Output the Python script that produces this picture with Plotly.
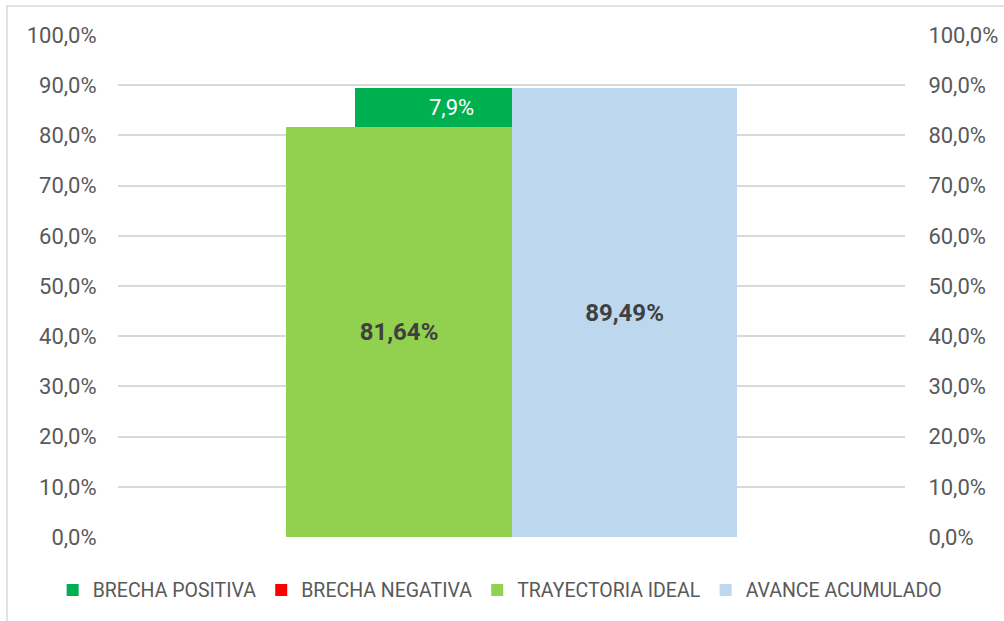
import plotly.graph_objects as go

# ---- data ----
series_names = ["BRECHA POSITIVA", "BRECHA NEGATIVA", "TRAYECTORIA IDEAL", "AVANCE ACUMULADO"]
trayectoria_ideal = [81.64]
avance_acumulado = [89.49]
brecha_positiva = [7.85]
brecha_negativa = [0.0]
brecha_labels = ["7,9%"]
categories = [0]
y_ticks = [0, 10, 20, 30, 40, 50, 60, 70, 80, 90, 100]
y_ticktext = [f"{v:.1f}%".replace(".", ",") for v in y_ticks]

colors = {
    "BRECHA POSITIVA": "#00B050",
    "BRECHA NEGATIVA": "#FF0000",
    "TRAYECTORIA IDEAL": "#92D050",
    "AVANCE ACUMULADO": "#BDD7EE",
}

FONT = "Roboto"
GRAY = "#595959"

fig = go.Figure()

# Brecha positiva (stacked on top of ideal trajectory)
fig.add_trace(go.Bar(
    name=series_names[0], x=categories, y=brecha_positiva, base=trayectoria_ideal,
    offset=-0.199, width=0.199, marker=dict(color=colors[series_names[0]], line=dict(width=0)),
    hoverinfo="skip",
))
# Brecha negativa
fig.add_trace(go.Bar(
    name=series_names[1], x=categories, y=brecha_negativa, base=trayectoria_ideal,
    offset=-0.199, width=0.199, marker=dict(color=colors[series_names[1]], line=dict(width=0)),
    hoverinfo="skip",
))
# Trayectoria ideal
fig.add_trace(go.Bar(
    name=series_names[2], x=categories, y=trayectoria_ideal,
    offset=-0.286, width=0.286, marker=dict(color=colors[series_names[2]], line=dict(width=0)),
    texttemplate="%{y:.2f}%", textposition="inside", insidetextanchor="middle",
    textfont=dict(family=FONT, size=24, color="#404040", weight="bold"),
    hoverinfo="skip",
))
# Avance acumulado (secondary axis)
fig.add_trace(go.Bar(
    name=series_names[3], x=categories, y=avance_acumulado, yaxis="y2",
    offset=0, width=0.286, marker=dict(color=colors[series_names[3]], line=dict(width=0)),
    texttemplate="%{y:.2f}%", textposition="inside", insidetextanchor="middle",
    textfont=dict(family=FONT, size=24, color="#404040", weight="bold"),
    hoverinfo="skip",
))

# Label for the gap bar
fig.add_annotation(
    x=categories[0] - 0.076, y=trayectoria_ideal[0] + brecha_positiva[0] / 2,
    text=brecha_labels[0], showarrow=False,
    font=dict(family=FONT, size=22, color="#FFFFFF"),
    xanchor="center", yanchor="middle",
)

# Outer chart border (partially cropped like the reference)
fig.add_shape(type="rect", xref="paper", yref="paper",
              x0=-0.141, x1=1.135, y0=-0.18, y1=1.058,
              line=dict(color="#D9D9D9", width=1.5), fillcolor="rgba(0,0,0,0)", layer="below")

axis_common = dict(
    range=[0, 100], tickvals=y_ticks, ticktext=y_ticktext,
    tickfont=dict(family=FONT, size=22, color=GRAY), zeroline=False,
    ticks="outside", ticklen=0, fixedrange=True,
)

fig.update_layout(
    width=1004, height=621,
    margin=dict(l=118, r=99, t=35, b=84, autoexpand=False),
    paper_bgcolor="white", plot_bgcolor="white",
    separators=",.",
    barmode="overlay",
    bargap=0,
    xaxis=dict(range=[-0.5, 0.5], showticklabels=False, showgrid=False,
               zeroline=False, showline=False, ticks="", fixedrange=True),
    yaxis=dict(**axis_common, showgrid=True, gridcolor="#D9D9D9", gridwidth=1.5,
               ticklabelstandoff=16),
    yaxis2=dict(**axis_common, overlaying="y", side="right", showgrid=False,
                ticklabelstandoff=18),
    legend=dict(orientation="h", x=-0.083, xanchor="left", y=-0.106, yanchor="middle",
                font=dict(family=FONT, size=19.5, color=GRAY), traceorder="normal",
                itemwidth=30, bgcolor="rgba(0,0,0,0)"),
    showlegend=True,
    font=dict(family=FONT, color=GRAY),
)

fig.write_html("out.html", config={"displayModeBar": False},
               post_script="document.body.style.margin='0px';")
